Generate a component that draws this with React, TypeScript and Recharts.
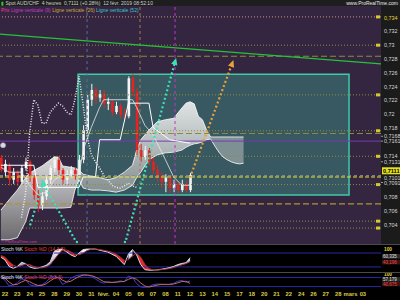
import React from 'react';
import {
  ComposedChart, Bar, Line, Area, XAxis, YAxis,
  ReferenceLine, ReferenceArea, ReferenceDot,
} from 'recharts';

// 4h candles condensed to three per trading day, index 0 = 22 Jan open
const FIRST = -1;
const opens = [0.7137, 0.7116, 0.7125, 0.7105, 0.7116, 0.7102, 0.7122, 0.7131, 0.7108, 0.7083, 0.7068, 0.7081, 0.7105, 0.7122, 0.7134, 0.7119, 0.7105, 0.7113, 0.7119, 0.7110, 0.7134, 0.7177, 0.7221, 0.7235, 0.7224, 0.7229, 0.7215, 0.7218, 0.7203, 0.7212, 0.7199, 0.7197, 0.7252, 0.7232, 0.7148, 0.7138, 0.7148, 0.7131, 0.7119, 0.7110, 0.7102, 0.7108, 0.7093, 0.7099, 0.7090, 0.7099, 0.7090];
const highs = [0.7141, 0.7134, 0.7129, 0.7122, 0.7119, 0.7126, 0.7137, 0.7134, 0.7112, 0.7090, 0.7087, 0.7110, 0.7126, 0.7139, 0.7138, 0.7122, 0.7119, 0.7125, 0.7123, 0.7141, 0.7184, 0.7228, 0.7244, 0.7239, 0.7235, 0.7235, 0.7224, 0.7221, 0.7218, 0.7216, 0.7209, 0.7255, 0.7258, 0.7238, 0.7157, 0.7154, 0.7151, 0.7137, 0.7126, 0.7116, 0.7113, 0.7112, 0.7105, 0.7103, 0.7105, 0.7103, 0.7115];
const lows = [0.7116, 0.7110, 0.7097, 0.7099, 0.7096, 0.7099, 0.7118, 0.7102, 0.7076, 0.7058, 0.7061, 0.7076, 0.7099, 0.7116, 0.7112, 0.7099, 0.7099, 0.7108, 0.7105, 0.7108, 0.7129, 0.7171, 0.7212, 0.7215, 0.7218, 0.7209, 0.7206, 0.7197, 0.7200, 0.7194, 0.7192, 0.7194, 0.7226, 0.7141, 0.7131, 0.7134, 0.7125, 0.7113, 0.7102, 0.7093, 0.7087, 0.7086, 0.7087, 0.7084, 0.7087, 0.7086, 0.7087];
const closes = [0.7119, 0.7128, 0.7105, 0.7116, 0.7102, 0.7122, 0.7131, 0.7108, 0.7083, 0.7068, 0.7081, 0.7105, 0.7122, 0.7134, 0.7119, 0.7105, 0.7113, 0.7119, 0.7110, 0.7134, 0.7177, 0.7221, 0.7235, 0.7224, 0.7229, 0.7215, 0.7218, 0.7203, 0.7212, 0.7199, 0.7197, 0.7252, 0.7232, 0.7148, 0.7138, 0.7148, 0.7131, 0.7119, 0.7110, 0.7102, 0.7108, 0.7093, 0.7099, 0.7090, 0.7099, 0.7090, 0.7112];

// ichimoku pieces as [candle index, value]
const tenkan = [[-1, 0.7123], [1, 0.7116], [4, 0.7116], [6, 0.7097], [8, 0.7083], [10, 0.7087], [12, 0.7105], [14, 0.7112], [18, 0.7112], [19, 0.7148], [21, 0.7181], [23, 0.7210], [24, 0.7221], [31, 0.7221], [32, 0.7210], [34, 0.7184], [36, 0.7170], [39, 0.7134], [41, 0.7109], [43, 0.7097], [45, 0.7097]];
const kijun = [[-1, 0.7126], [7, 0.7126], [8, 0.7094], [18, 0.7094], [19, 0.7109], [22, 0.7109], [23, 0.7163], [28, 0.7163], [30, 0.7216], [35, 0.7216], [36, 0.7181], [40, 0.7163], [45, 0.7158]];
const chikou = [[4, 0.7050], [5, 0.7085], [6, 0.7173], [7, 0.7221], [8, 0.7213], [9, 0.7187], [10, 0.7187], [11, 0.7203], [12, 0.7210], [13, 0.7216], [14, 0.7212], [15, 0.7203], [16, 0.7199], [17, 0.7221], [18, 0.7255], [19, 0.7213], [20, 0.7167], [21, 0.7141], [22, 0.7131], [23, 0.7122], [24, 0.7112], [25, 0.7105], [26, 0.7097], [27, 0.7094], [28, 0.7093], [29, 0.7096], [30, 0.7100], [31, 0.7096], [32, 0.7094]];
// cloud as [index, lower, upper]
const cloudLeft = [[-1, 0.7018, 0.7061], [1, 0.7018, 0.7076], [3, 0.7021, 0.7090], [5, 0.7044, 0.7108], [6, 0.7064, 0.7115], [9, 0.7064, 0.7125], [11, 0.7064, 0.7134], [12, 0.7064, 0.7138], [13, 0.7064, 0.7138], [14, 0.7064, 0.7125], [16, 0.7065, 0.7123], [17, 0.7090, 0.7122], [18, 0.7105, 0.7119]];
const cloudRight = [[18, 0.7105, 0.7119], [19, 0.7093, 0.7113], [21, 0.7090, 0.7110], [23, 0.7090, 0.7108], [25, 0.7089, 0.7105], [27, 0.7087, 0.7108], [29, 0.7090, 0.7116], [31, 0.7097, 0.7126], [32, 0.7108, 0.7148], [33, 0.7116, 0.7163], [35, 0.7134, 0.7177], [37, 0.7141, 0.7189], [39, 0.7144, 0.7192], [41, 0.7145, 0.7194], [43, 0.7148, 0.7209], [44, 0.7152, 0.7216], [45, 0.7155, 0.7218], [46, 0.7157, 0.7215], [47, 0.7158, 0.7197], [48, 0.7160, 0.7192], [49, 0.7163, 0.7177], [50, 0.7164, 0.7167]];
const cloudBear = [[50, 0.7164, 0.7167], [51, 0.7154, 0.7167], [52, 0.7145, 0.7167], [53, 0.7138, 0.7167], [54, 0.7134, 0.7167], [55, 0.7131, 0.7167], [56, 0.7129, 0.7167], [57, 0.7128, 0.7167], [58, 0.7129, 0.7167]];

// stochastics, one value per candle
const stoch1K = [62, 50, 22, 14, 22, 40, 34, 20, 14, 15, 20, 27, 42, 88, 96, 97, 85, 72, 64, 80, 95, 97, 97, 97, 92, 88, 84, 75, 66, 48, 30, 75, 95, 72, 30, 8, 6, 6, 7, 10, 13, 17, 22, 30, 35, 38, 60];
const stoch1D = [70, 62, 42, 28, 20, 26, 32, 30, 22, 16, 16, 20, 30, 52, 75, 94, 93, 85, 74, 72, 80, 91, 96, 97, 95, 92, 88, 83, 75, 63, 48, 51, 67, 79, 62, 31, 13, 7, 6, 8, 10, 13, 17, 23, 29, 34, 43];
const stoch2K = [82, 62, 24, 30, 45, 70, 65, 33, 24, 26, 33, 50, 80, 89, 78, 33, 50, 75, 89, 95, 99, 95, 88, 70, 52, 43, 52, 47, 50, 58, 52, 89, 80, 40, 18, 15, 20, 33, 37, 35, 33, 36, 42, 55, 61, 48, 57];
const stoch2D = [85, 75, 50, 32, 35, 50, 62, 52, 38, 28, 28, 38, 58, 75, 82, 62, 50, 55, 72, 86, 95, 96, 93, 83, 68, 53, 48, 48, 49, 52, 54, 68, 78, 68, 44, 24, 17, 23, 30, 35, 35, 34, 37, 45, 53, 55, 41];
const stoch1Last = [60.335, 43.196];
const stoch2Last = [57.179, 40.675];

const dayLabels = ['22', '23', '24', '25', '28', '29', '30', '31', 'févr.', '04', '05', '06', '07', '08', '11', '12', '13', '14', '15', '17', '18', '20', '21', '22', '24', '26', '27', '28', 'mars', '03'];
const dayTicks = dayLabels.map((_, i) => i);

const priceTicks = [0.734, 0.732, 0.73, 0.728, 0.726, 0.724, 0.722, 0.72, 0.718, 0.7168, 0.7161, 0.714, 0.7131, 0.7118, 0.7108, 0.7101, 0.708, 0.706, 0.704];
const priceLabels = ['0,734', '0,732', '0,73', '0,728', '0,726', '0,724', '0,722', '0,72', '0,718', '0,7168', '0,7161', '0,714', '0,7131', '0,7111', '0,7101', '0,7091', '0,708', '0,706', '0,704'];

// drawn levels and lines (prices / day slots)
const dottedLevels = [0.7300, 0.7228, 0.7176, 0.7139, 0.7098, 0.7045, 0.7035];
const dashedLevels = [0.7284, 0.7172];
const topLevel = 0.7341;
const supportLevel = 0.7070;
const pivotLevel = 0.7161;
const lastLevel = 0.7109;
const vLines = [6.65, 10.94, 13.78];
const box = { x1: 5.92, x2: 27.88, y1: 0.7083, y2: 0.7258 };
const trend = [{ x: -0.405, y: 0.7316 }, { x: 30.47, y: 0.7273 }];
const arrowUp = [{ x: 9.81, y: 0.7018 }, { x: 13.78, y: 0.7276 }];
const arrowBack = [{ x: 5.67, y: 0.7018 }, { x: 3.08, y: 0.7100 }];
const arrowLeft = [{ x: 2.03, y: 0.7039 }, { x: 3.08, y: 0.7099 }];
const arrowGold = [{ x: 14.99, y: 0.7108 }, { x: 18.40, y: 0.7273 }];

const X_DOMAIN = [-0.405, 30.47];
const PRICE_DOMAIN = [0.70119, 0.73568];
const PURPLE = '#342641';
const TEAL = '#3fe0b4';
const FONT = 'Arial, "Liberation Sans", sans-serif';

type Row = Record<string, any>;

function table(fill: (at: (i: number) => Row) => void): Row[] {
  const rows = new Map<number, Row>();
  const at = (i: number) => {
    let r = rows.get(i);
    if (!r) { r = { t: i / 3 }; rows.set(i, r); }
    return r;
  };
  fill(at);
  return [...rows.entries()].sort((a, b) => a[0] - b[0]).map((e) => e[1]);
}

const mainRows = table((at) => {
  opens.forEach((o, k) => {
    const r = at(k + FIRST);
    r.o = o; r.h = highs[k]; r.l = lows[k]; r.c = closes[k];
    r.range = [lows[k], highs[k]];
  });
  tenkan.forEach(([i, v]) => { at(i).tenkan = v; });
  kijun.forEach(([i, v]) => { at(i).kijun = v; });
  chikou.forEach(([i, v]) => { at(i).chikou = v; });
  cloudLeft.forEach(([i, lo, hi]) => { at(i).cloudL = [lo, hi]; });
  cloudRight.forEach(([i, lo, hi]) => { at(i).cloudR = [lo, hi]; });
  cloudBear.forEach(([i, lo, hi]) => { at(i).cloudB = [lo, hi]; });
});

const stochRows = (ks: number[], ds: number[]) => table((at) => {
  ks.forEach((k, n) => {
    const r = at(n + FIRST);
    const d = ds[n];
    r.k = k; r.d = d;
    r.up = k >= d ? [d, k] : null;
    r.dn = k < d ? [k, d] : null;
  });
});
const s1Rows = stochRows(stoch1K, stoch1D);
const s2Rows = stochRows(stoch2K, stoch2D);

const Candle = (props: any) => {
  const { x, y, width, height, payload } = props;
  if (!payload || payload.o == null) return null;
  const { o, h, l, c } = payload;
  const top = Math.min(y, y + height);
  const span = Math.max(Math.abs(height), 1);
  const py = (v: number) => top + ((h - v) / (h - l)) * span;
  const color = c >= o ? '#f4f4f4' : '#e8221e';
  const cx = x + width / 2;
  const bt = py(Math.max(o, c));
  const bb = py(Math.min(o, c));
  return (
    <g>
      <line x1={cx} x2={cx} y1={top} y2={top + span} stroke={color} strokeWidth={1} />
      <rect x={cx - 1.3} y={bt} width={2.6} height={Math.max(1, bb - bt)} fill={color} />
    </g>
  );
};

const PriceTick = (props: any) => {
  const { x, y, payload } = props;
  const idx = priceTicks.indexOf(payload.value);
  const label = priceLabels[idx];
  if (!label) return null;
  if (label === '0,7111') {
    return (
      <g>
        <rect x={x - 1} y={y - 3.5} width={18} height={7} fill="#e6df1c" />
        <text x={x} y={y + 2} fontSize={5.6} fill="#000" fontFamily={FONT} fontWeight="bold">{label}</text>
      </g>
    );
  }
  const marked = ['0,7168', '0,7161', '0,7131', '0,7091'].includes(label);
  const color = label === '0,734' ? '#e6d838' : '#d8d8d8';
  return (
    <g>
      {marked && <line x1={x - 2} x2={x} y1={y} y2={y} stroke="#bbb" strokeWidth={0.8} />}
      <text x={x + 1} y={y + 2} fontSize={5.4} fill={color} fontFamily={FONT}>{label}</text>
    </g>
  );
};

// last-value tags on a stochastic axis; shifts keep the boxes apart
const stochTick = (last: number[], shifts: number[], topShift: number) => (props: any) => {
  const { x, y, payload } = props;
  const v = payload.value;
  if (v === 100) {
    return <text x={x + 1} y={y + topShift} fontSize={4.8} fill="#e6d838" fontFamily={FONT} fontWeight="bold">100</text>;
  }
  const n = last.indexOf(v);
  const red = n === 1;
  const cy = y + (shifts[n] ?? 0);
  const label = v.toFixed(3).replace('.', ',');
  return (
    <g>
      <rect x={x - 1} y={cy - 2.3} width={18} height={4.6} fill={red ? '#3a1414' : '#2c2c2c'} />
      <text x={x} y={cy + 1.6} fontSize={4.5} fill={red ? '#f04848' : '#e0e0e0'} fontFamily={FONT}>{label}</text>
    </g>
  );
};

const head = (color: string, angle: number) => (p: any) => (
  <polygon
    points="4,0 -3,-3.2 -3,3.2"
    transform={`translate(${p.cx},${p.cy}) rotate(${angle})`}
    fill={color}
  />
);

const Tag = (props: any) => {
  const vb = props.viewBox;
  if (!vb) return null;
  return <rect x={vb.x + vb.width - 5} y={vb.y - 1.5} width={4} height={3} fill="#d8c830" />;
};

const noMargin = { top: 0, right: 0, bottom: 0, left: 0 };

function StochPanel({ rows, last, shifts, topShift, top, height, domain, kColor, dColor, ribbon, axis, title }: any) {
  return (
    <div style={{ position: 'absolute', left: 0, top, width: 400, height, borderTop: '1px solid #4a4a4a', background: '#000' }}>
      <ComposedChart width={400} height={height - 1} data={rows} margin={noMargin}>
        <defs>
          <linearGradient id={`up${top}`} x1="0" y1="0" x2="0" y2="1">
            <stop offset="0%" stopColor="#ffffff" />
            <stop offset="100%" stopColor="#8c8cc8" />
          </linearGradient>
        </defs>
        <XAxis
          type="number" dataKey="t" domain={X_DOMAIN} allowDataOverflow
          hide={!axis} ticks={dayTicks} interval={0} height={axis ? 9 : 0}
          tickFormatter={(v: number) => dayLabels[v] ?? ''}
          tick={{ fontSize: 5.8, fill: '#dccd4a', fontFamily: FONT, fontWeight: 'bold' }}
          tickLine={false} axisLine={false} tickSize={0} tickMargin={1}
        />
        <YAxis
          orientation="right" width={19} domain={domain} allowDataOverflow
          ticks={[100, ...last]} interval={0} tick={stochTick(last, shifts, topShift)}
          tickLine={false} axisLine={false} tickSize={0} tickMargin={2}
        />
        <ReferenceLine y={80} stroke="#2a2aa6" strokeWidth={1} />
        <ReferenceLine y={20} stroke="#2a2aa6" strokeWidth={1} />
        {ribbon && (
          <Area dataKey="up" type="linear" fill={`url(#up${top})`} fillOpacity={1} stroke="none" isAnimationActive={false} />
        )}
        {ribbon && (
          <Area dataKey="dn" type="linear" fill="#e52a26" fillOpacity={1} stroke="none" isAnimationActive={false} />
        )}
        <Line dataKey="k" type="linear" stroke={kColor} strokeWidth={1} dot={false} isAnimationActive={false} />
        <Line dataKey="d" type="linear" stroke={dColor} strokeWidth={1} dot={false} isAnimationActive={false} />
      </ComposedChart>
      <div style={{ position: 'absolute', left: 1, top: 1, fontSize: 5, fontFamily: FONT, whiteSpace: 'nowrap', lineHeight: '6px' }}>
        <span style={{ color: '#e0e0e0' }}>Stoch %K </span>
        <span style={{ color: '#f04040' }}>Stoch %D {title}</span>
      </div>
    </div>
  );
}

export default function App() {
  return (
    <div style={{ position: 'fixed', left: 0, top: 0, width: 400, height: 300, background: '#000', overflow: 'hidden', fontFamily: FONT }}>
      <div style={{ position: 'absolute', left: 0, top: 0, width: 400, height: 6, background: '#1e1e1e' }} />
      <div style={{ position: 'absolute', left: 0, top: 6, width: 381, height: 238, background: PURPLE }} />
      <div style={{ position: 'absolute', left: 381, top: 6, width: 19, height: 238, background: '#1b1b1b' }} />
      <div style={{ position: 'absolute', left: 0, top: 6 }}>
        <ComposedChart width={400} height={238} data={mainRows} margin={noMargin}>
          <defs>
            <linearGradient id="cloudL" x1="0" y1="0" x2="0" y2="1">
              <stop offset="0%" stopColor="#e4e4e4" />
              <stop offset="100%" stopColor="#6c6c72" />
            </linearGradient>
            <linearGradient id="cloudR" x1="0" y1="0" x2="0" y2="1">
              <stop offset="0%" stopColor="#f2f2f2" />
              <stop offset="100%" stopColor="#8e9696" />
            </linearGradient>
          </defs>
          <XAxis type="number" dataKey="t" domain={X_DOMAIN} hide allowDataOverflow />
          <YAxis
            orientation="right" width={19} domain={PRICE_DOMAIN} allowDataOverflow
            ticks={priceTicks} interval={0} tick={<PriceTick />}
            tickLine={false} axisLine={false} tickSize={0} tickMargin={2}
          />
          <ReferenceArea
            x1={box.x1} x2={box.x2} y1={box.y1} y2={box.y2}
            fill="#3c8c84" fillOpacity={0.5} stroke="#3fc9a6" strokeWidth={1.5}
          />
          <ReferenceLine y={topLevel} stroke="#c49a7a" strokeDasharray="1 2" label={<Tag />} />
          {dottedLevels.map((v) => (
            <ReferenceLine key={v} y={v} stroke="#8e8c3e" strokeDasharray="1 2" label={<Tag />} />
          ))}
          {dashedLevels.map((v) => (
            <ReferenceLine key={v} y={v} stroke="#8c8a3c" strokeWidth={1.2} strokeDasharray="6 3" />
          ))}
          <ReferenceLine y={supportLevel} stroke="#b0952c" strokeWidth={1.2} strokeDasharray="6 3" />
          <ReferenceLine y={pivotLevel} stroke="#7a38b8" strokeWidth={1} />
          <ReferenceLine x={vLines[0]} stroke="#5c6a98" strokeDasharray="3 3" />
          <ReferenceLine x={vLines[1]} stroke="#a67c4e" strokeDasharray="3 3" />
          <ReferenceLine x={vLines[2]} stroke="#c435c8" strokeDasharray="3 3" />
          <ReferenceLine segment={trend} stroke="#26c23a" strokeWidth={1.2} ifOverflow="visible" />
          <Area dataKey="cloudL" type="linear" fill="url(#cloudL)" fillOpacity={0.95} stroke="#ffffff" strokeWidth={0.8} connectNulls isAnimationActive={false} />
          <Area dataKey="cloudR" type="linear" fill="url(#cloudR)" fillOpacity={0.9} stroke="#ffffff" strokeWidth={0.8} connectNulls isAnimationActive={false} />
          <Area dataKey="cloudB" type="linear" fill="#8b9a9c" fillOpacity={0.85} stroke="#ffffff" strokeWidth={0.8} connectNulls isAnimationActive={false} />
          <Line dataKey="kijun" type="linear" stroke="#ffffff" strokeWidth={1} dot={false} connectNulls isAnimationActive={false} />
          <Line dataKey="tenkan" type="linear" stroke="#e8e8e8" strokeWidth={0.8} dot={false} connectNulls isAnimationActive={false} />
          <Line dataKey="chikou" type="linear" stroke="#f0f0f0" strokeWidth={1.5} strokeDasharray="1 1.6" dot={false} connectNulls isAnimationActive={false} />
          <ReferenceLine y={lastLevel + 0.0002} stroke="#8a8a8a" strokeDasharray="3 3" />
          <ReferenceLine y={lastLevel} stroke="#e8e236" strokeWidth={1} strokeDasharray="4 2" />
          <Bar dataKey="range" barSize={3} shape={<Candle />} isAnimationActive={false} />
          <ReferenceLine segment={arrowUp} stroke={TEAL} strokeWidth={2.2} strokeDasharray="2 2.4" />
          <ReferenceLine segment={arrowBack} stroke={TEAL} strokeWidth={2.2} strokeDasharray="2 2.4" />
          <ReferenceLine segment={arrowLeft} stroke={TEAL} strokeWidth={2.2} strokeDasharray="2 2.4" />
          <ReferenceLine segment={arrowGold} stroke="#e8a23c" strokeWidth={2.2} strokeDasharray="2 2.4" />
          <ReferenceDot x={arrowUp[1].x} y={arrowUp[1].y} r={3} shape={head(TEAL, -74.6)} />
          <ReferenceDot x={arrowBack[1].x} y={arrowBack[1].y} r={3} shape={head(TEAL, -105)} />
          <ReferenceDot x={arrowGold[1].x} y={arrowGold[1].y} r={3} shape={head('#e8a23c', -70)} />
          <ReferenceDot x={-0.16} y={0.7155} r={2.6} fill="#d8d8e0" stroke="#9a9aa8" strokeWidth={0.6} />
          <ReferenceDot x={5.83} y={0.70148} r={1.2} fill={TEAL} stroke="none" />
          <ReferenceDot x={9.72} y={0.70148} r={1.2} fill={TEAL} stroke="none" />
        </ComposedChart>
      </div>
      <div style={{ position: 'absolute', left: 1, top: 0, height: 6, fontSize: 5, lineHeight: '6px', color: '#cfcfcf', whiteSpace: 'nowrap' }}>
        <span style={{ color: '#33cc33' }}>▮</span> Spot AUD/CHF &nbsp;4 heures &nbsp;0,7111 (+0.28%) &nbsp;12 févr. 2019 08:52:10
      </div>
      <div style={{ position: 'absolute', right: 2, top: 0, height: 6, fontSize: 5, lineHeight: '6px', color: '#e8e8e8', whiteSpace: 'nowrap' }}>
        www.ProRealTime.com
      </div>
      <div style={{ position: 'absolute', left: 1, top: 7, fontSize: 5, lineHeight: '6px', whiteSpace: 'nowrap' }}>
        <span style={{ color: '#ea3f8e' }}>Prix </span>
        <span style={{ color: '#c43cc4' }}>Ligne verticale (9) </span>
        <span style={{ color: '#c8a640' }}>Ligne verticale (26) </span>
        <span style={{ color: '#3cc4c8' }}>Ligne verticale (52)</span>
      </div>
      <div style={{ position: 'absolute', left: 1, top: 239, fontSize: 4, lineHeight: '5px', color: '#c13f9a', whiteSpace: 'nowrap' }}>
        © ProRealTime.com
      </div>
      <StochPanel
        rows={s1Rows} last={stoch1Last} shifts={[-1.2, 0.6]} topShift={2.2} top={244} height={29} domain={[-6.25, 114.6]}
        kColor="#d4d4ee" dColor="#9c3434" ribbon axis={false} title="(14,3,5)"
      />
      <StochPanel
        rows={s2Rows} last={stoch2Last} shifts={[-1.6, 0.5]} topShift={1.8} top={272} height={28} domain={[-8.9, 109.5]}
        kColor="#3c3cd4" dColor="#c46868" ribbon={false} axis title="(5,3,3)"
      />
    </div>
  );
}
